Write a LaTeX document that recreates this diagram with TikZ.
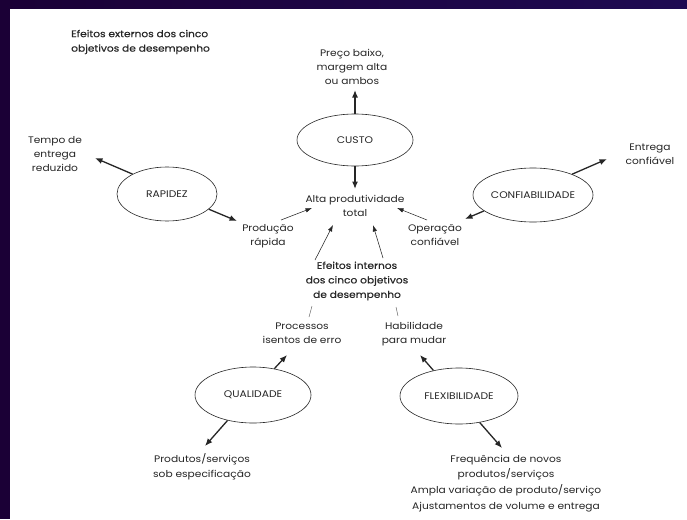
\documentclass[tikz,border=0pt]{standalone}
\usepackage{fontspec}
\setmainfont{Poppins}[FakeStretch=1.12]
\usetikzlibrary{arrows.meta,shapes.geometric}
\definecolor{ink}{HTML}{262626}
\definecolor{frameL}{HTML}{1B0036}
\definecolor{frameM}{HTML}{0B0A68}
\definecolor{frameR}{HTML}{1E0A52}
\begin{document}
\begin{tikzpicture}[x=1pt,y=-1pt,
  lbl/.style={text=ink, align=center, inner sep=0pt, font=\fontsize{9.5}{14}\selectfont},
  heavy/.style={font=\fontsize{9.5}{14.5}\selectfont\addfontfeature{FakeBold=0.5}},
  obj/.style={ellipse, draw=ink, line width=0.6pt, inner sep=0pt, text=ink,
              font=\fontsize{9.6}{11}\selectfont},
  ext/.style={draw=ink, line width=1.3pt, -{Latex[length=7.5pt,width=6pt]}},
  int/.style={draw=ink, line width=0.55pt, -{Latex[length=6.5pt,width=4.5pt]}},
  tick/.style={draw=ink!75, line width=0.45pt}]
  % page and frame strips
  \useasboundingbox (0,0) rectangle (687,519);
  \fill[white] (0,0) rectangle (687,519);
  \shade[left color=frameL, middle color=frameM, right color=frameR] (0,0) rectangle (687,9);
  \fill[frameL] (0,0) rectangle (10,519);

  % captions
  \node[lbl, heavy, align=left, anchor=west] (titulo) at (71,42)
       {Efeitos externos dos cinco\\objetivos de desempenho};
  \node[lbl] (preco) at (352,67) {Preço baixo,\\margem alta\\ou ambos};

  % performance objectives
  \node[obj, minimum width=116pt, minimum height=52pt] (custo) at (355,140) {CUSTO};
  \node[obj, minimum width=100pt, minimum height=54pt] (rapidez) at (167,194) {RAPIDEZ};
  \node[obj, minimum width=120pt, minimum height=54pt] (conf) at (533,195) {CONFIABILIDADE};
  \node[obj, minimum width=116pt, minimum height=56pt] (qualidade) at (253,395) {QUALIDADE};
  \node[obj, minimum width=118pt, minimum height=56pt] (flex) at (459,396) {FLEXIBILIDADE};

  % effects
  \node[lbl] (alta) at (355,206) {Alta produtividade\\total};
  \node[lbl] (tempo) at (55,154) {Tempo de\\entrega\\reduzido};
  \node[lbl] (producao) at (268,236) {Produção\\rápida};
  \node[lbl] (entrega) at (650,154) {Entrega\\confiável};
  \node[lbl] (operacao) at (435,235) {Operação\\confiável};
  \node[lbl, heavy] (internos) at (357,281)
       {Efeitos internos\\dos cinco objetivos\\de desempenho};
  \node[lbl] (processos) at (302,333) {Processos\\isentos de erro};
  \node[lbl] (habilidade) at (414,334) {Habilidade\\para mudar};
  \node[lbl, font=\fontsize{9.5}{14.5}\selectfont] (produtos) at (202,467)
       {Produtos/serviços\\sob especificação};
  \node[lbl, font=\fontsize{9.5}{15.8}\selectfont] (frequencia) at (506,483.5)
       {Frequência de novos\\produtos/serviços\\Ampla variação de produto/serviço\\Ajustamentos de volume e entrega};

  % arrow tips and short guide marks
  \coordinate (tPreco) at (355,90);
  \coordinate (tAlta) at (355,189);
  \coordinate (tTempo) at (95,158);
  \coordinate (tProd) at (237,221);
  \coordinate (tEntrega) at (607,159);
  \coordinate (tOper) at (465,219);
  \coordinate (tAltaL) at (312,208);
  \coordinate (tAltaR) at (397,208);
  \coordinate (tIntL) at (333,225);
  \coordinate (tIntR) at (373,225);
  \coordinate (tProc) at (287,355);
  \coordinate (tHab) at (420,355);
  \coordinate (tProdutos) at (205,446);
  \coordinate (tFreq) at (502,448);
  \coordinate (sProdL) at (281,220);
  \coordinate (sOperR) at (427,220);
  \coordinate (sIntL) at (315,260);
  \coordinate (sIntR) at (383,258);
  \coordinate (kL1) at (312,306);
  \coordinate (kL2) at (309,317);
  \coordinate (kR1) at (396,307);
  \coordinate (kR2) at (398,316);

  % external effects
  \draw[ext] (custo.north) -- (tPreco);
  \draw[ext] (rapidez.150) -- (tTempo);
  \draw[ext] (conf.28) -- (tEntrega);
  \draw[ext] (qualidade.225) -- (tProdutos);
  \draw[ext] (flex.308) -- (tFreq);

  % internal effects
  \draw[ext] (custo.south) -- (tAlta);
  \draw[ext] (rapidez.340) -- (tProd);
  \draw[ext] (conf.198) -- (tOper);
  \draw[ext] (qualidade.51) -- (tProc);
  \draw[ext] (flex.135) -- (tHab);

  % towards total productivity
  \draw[int] (sProdL) -- (tAltaL);
  \draw[int] (sOperR) -- (tAltaR);
  \draw[int] (sIntL) -- (tIntL);
  \draw[int] (sIntR) -- (tIntR);
  \draw[tick] (kL1) -- (kL2);
  \draw[tick] (kR1) -- (kR2);
\end{tikzpicture}
\end{document}
